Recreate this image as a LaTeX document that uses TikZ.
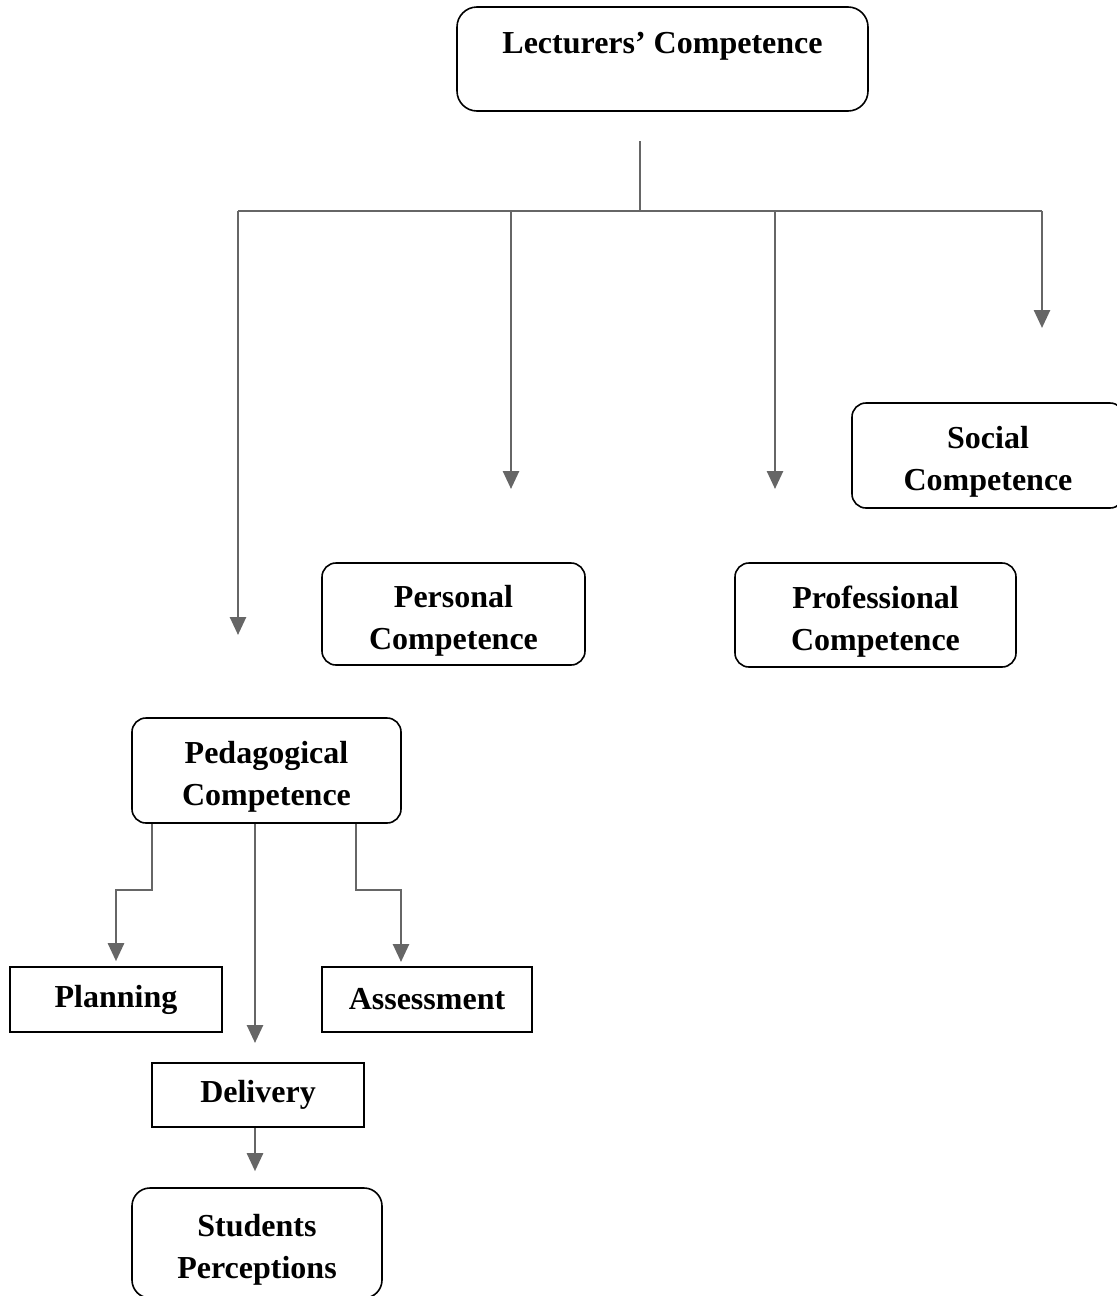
\documentclass[tikz,border=0pt]{standalone}
\usepackage{fontspec}
\setmainfont{Liberation Serif}
\usepackage{tikz}
\usetikzlibrary{arrows.meta, positioning}
\tikzset{arr/.style={draw=black!60, line width=1.3pt, -{Triangle[width=8pt,length=9pt]}},
link/.style={draw=black!60, line width=1.3pt},
rbox/.style={draw, line width=0.8pt, rounded corners=7pt, align=center, inner sep=0pt},
sbox/.style={draw, line width=0.8pt, align=center, inner sep=0pt},
every node/.style={font=\bfseries\fontsize{16}{21}\selectfont}
%every node/.style={fill=gray!10},
}
\newcommand\tp{\rule{0pt}{17.5pt}}

\begin{document}
\begin{tikzpicture}[x=0.5pt,y=-0.5pt]
\useasboundingbox (0,0) rectangle (1116,1296);
\node[rbox,rounded corners=10pt,minimum width=205.5pt,minimum height=52pt,text height=11.5pt,text depth=17pt] (lc) at (662.5,59) {Lecturers' Competence};
\node[rbox,minimum width=136pt,minimum height=52.5pt] (soc) at (988,455.5) {\tp Social\\Competence};
\node[rbox,minimum width=131.5pt,minimum height=51pt] (pers) at (453.5,614) {\tp Personal\\Competence};
\node[rbox,minimum width=140.5pt,minimum height=52pt] (prof) at (875.5,615) {\tp Professional\\Competence};
\node[rbox,minimum width=134.5pt,minimum height=52.5pt] (ped) at (266.5,770.5) {\tp Pedagogical\\Competence};
\node[sbox,minimum width=106pt,minimum height=32.5pt] (plan) at (116,999.5) {Planning};
\node[sbox,minimum width=105pt,minimum height=32.5pt] (assess) at (427,999.5) {Assessment};
\node[sbox,minimum width=106pt,minimum height=32pt] (deliv) at (258,1095) {Delivery};
\node[rbox,rounded corners=9pt,minimum width=125pt,minimum height=55pt] (stud) at (257,1243) {\tp Students\\Perceptions};

\coordinate (top) at (640,141);
\coordinate (hub) at (640,211);
\coordinate (bl) at (238,211);
\coordinate (br) at (1042,211);
\coordinate (tped) at (238,635);
\coordinate (tpers) at (511,489);
\coordinate (tprof) at (775,489);
\coordinate (tsoc) at (1042,328);
\coordinate (jl) at (152,890);
\coordinate (jr) at (356,890);
\coordinate (ta) at (401,962);
\coordinate (md) at (255,1043);

\draw[link] (top) -- (hub);
\draw[link] (bl) -- (br);
\draw[arr] (bl) -- (tped);
\draw[arr] (tpers |- hub) -- (tpers);
\draw[arr] (tprof |- hub) -- (tprof);
\draw[arr] (br) -- (tsoc);
\draw[arr,shorten >=2.5pt] (ped.south -| jl) -- (jl) -| (plan);
\draw[arr] (ped.south -| jr) -- (jr) -| (ta);
\draw[arr] (ped.south -| md) -- (md);
\draw[arr,shorten >=8pt] (deliv.south -| md) -- (stud.north -| md);
\end{tikzpicture}
\end{document}
